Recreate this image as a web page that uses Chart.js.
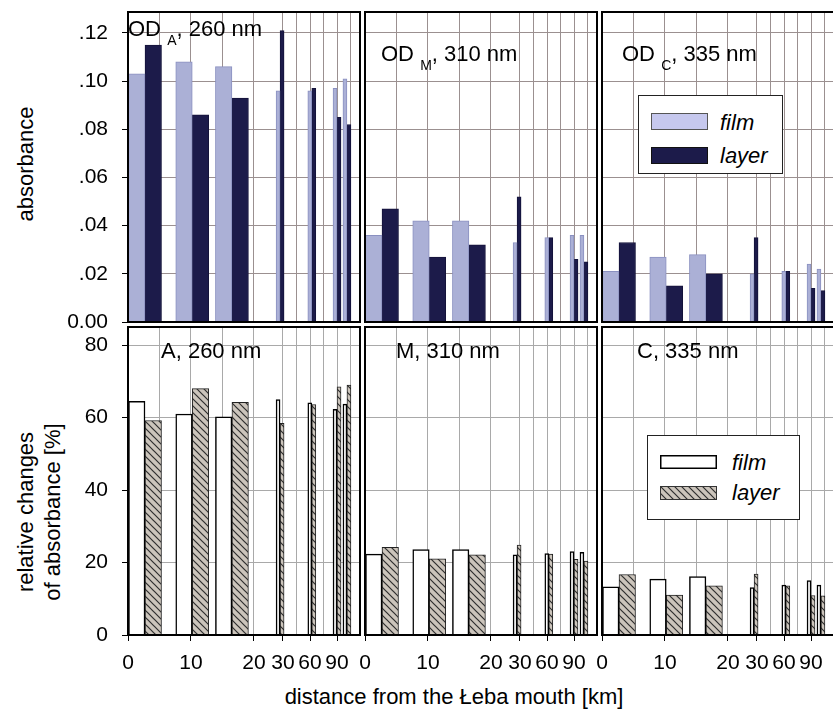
<!DOCTYPE html>
<html>
<head>
<meta charset="utf-8">
<title>Absorbance along the Łeba transect</title>
<script src="https://cdn.jsdelivr.net/npm/chart.js@4.4.1/dist/chart.umd.min.js"></script>
<style>
  html, body { margin: 0; padding: 0; }
  body { width: 833px; height: 710px; overflow: hidden; position: relative; background: #fff;
         font-family: "Liberation Sans", Arial, sans-serif; color: #000; }
  canvas { position: absolute; }
  .txt { position: absolute; font-size: 22px; line-height: 1; white-space: nowrap; }
  .txt .sub { position: relative; top: 9px; font-size: 14px; }
  .ytitle { position: absolute; font-size: 22px; line-height: 27px; text-align: center; white-space: nowrap;
            transform: translate(-50%, -50%) rotate(-90deg); }
  .legend { position: absolute; background: #fff; border: 1px solid #222; box-sizing: border-box; }
  .legend span { position: absolute; font-style: italic; font-size: 22px; line-height: 1; }
</style>
</head>
<body>
<div class="ytitle" style="left:25px; top:164px;">absorbance</div>
<div class="ytitle" style="left:39px; top:512px;">relative changes<br>of absorbance [%]</div>
<div class="txt" style="left:454px; top:686px; transform:translateX(-50%);">distance from the Łeba mouth [km]</div>

<script>
// sampling stations, km from the Łeba mouth (first three drawn wide, the rest narrow)
const stations = [2.7, 10.2, 16.5, 29, 62, 90, 101];
const wideCount = 3;

const seriesNames = ['film', 'layer'];
const bands = ['A', 'M', 'C'];
const wavelengths = ['260 nm', '310 nm', '335 nm'];

// absorbance OD
const odFilmA  = [0.103, 0.108, 0.106, 0.096, 0.096, 0.097, 0.101];
const odLayerA = [0.115, 0.086, 0.093, 0.121, 0.097, 0.085, 0.082];
const odFilmM  = [0.036, 0.042, 0.042, 0.033, 0.035, 0.036, 0.036];
const odLayerM = [0.047, 0.027, 0.032, 0.052, 0.035, 0.026, 0.025];
const odFilmC  = [0.021, 0.027, 0.028, 0.020, 0.021, 0.024, 0.022];
const odLayerC = [0.033, 0.015, 0.020, 0.035, 0.021, 0.014, 0.013];

// relative changes of absorbance [%]
const relFilmA  = [64.5, 61.0, 60.2, 65.0, 64.1, 62.3, 63.7];
const relLayerA = [59.2, 68.0, 64.2, 58.4, 63.6, 68.5, 69.0];
const relFilmM  = [22.3, 23.6, 23.6, 22.1, 22.5, 23.0, 22.8];
const relLayerM = [24.2, 21.0, 22.1, 24.8, 22.3, 20.9, 20.4];
const relFilmC  = [13.3, 15.4, 16.1, 13.1, 13.8, 15.0, 13.8];
const relLayerC = [16.7, 11.0, 13.6, 16.8, 13.6, 10.9, 10.8];

// axis ticks
const odTicks = [0, 0.02, 0.04, 0.06, 0.08, 0.10, 0.12];
const odTickLabels = ['0.00', '.02', '.04', '.06', '.08', '.10', '.12'];
const odMax = 0.1287;
const relTicks = [0, 20, 40, 60, 80];
const relTickLabels = ['0', '20', '40', '60', '80'];
const relMax = 85;

const gridKm = [0, 5, 10, 15, 20, 30, 45, 60, 75, 90, 105];
const tickKm = [0, 10, 20, 30, 60, 90];
// broken distance axis: break points and where they sit across the panel
const breakKm = [0, 20, 30, 115.5];
const breakFrac = [0, 0.543, 0.668, 1];

function kmToFrac(km) {
  for (let i = 1; i < breakKm.length; i++) {
    if (km <= breakKm[i] || i === breakKm.length - 1) {
      const t = (km - breakKm[i - 1]) / (breakKm[i] - breakKm[i - 1]);
      return breakFrac[i - 1] + t * (breakFrac[i] - breakFrac[i - 1]);
    }
  }
}
function fracToKm(f) {
  for (let i = 1; i < breakFrac.length; i++) {
    if (f <= breakFrac[i] || i === breakFrac.length - 1) {
      const t = (f - breakFrac[i - 1]) / (breakFrac[i] - breakFrac[i - 1]);
      return breakKm[i - 1] + t * (breakKm[i] - breakKm[i - 1]);
    }
  }
}

class DistanceScale extends Chart.LinearScale {
  getPixelForValue(value) {
    return value === null ? NaN : this.getPixelForDecimal(kmToFrac(value));
  }
  getValueForPixel(pixel) {
    return fracToKm(this.getDecimalForPixel(pixel));
  }
}
DistanceScale.id = 'distance';
Chart.register(DistanceScale);

Chart.defaults.font.family = '"Liberation Sans", Arial, sans-serif';
Chart.defaults.font.size = 21;
Chart.defaults.color = '#000';

function makeHatch() {
  const s = 7;
  const c = document.createElement('canvas');
  c.width = s; c.height = s;
  const g = c.getContext('2d');
  g.fillStyle = '#cbc4bb';
  g.fillRect(0, 0, s, s);
  g.strokeStyle = '#2e2e2e';
  g.lineWidth = 1.2;
  g.beginPath();
  g.moveTo(-1, -1); g.lineTo(s + 1, s + 1);
  g.moveTo(-1, s - 1); g.lineTo(1, s + 1);
  g.moveTo(s - 1, -1); g.lineTo(s + 1, 1);
  g.stroke();
  return g.createPattern(c, 'repeat');
}
const hatch = makeHatch();

const styles = {
  od:  [{ backgroundColor: '#abb0d6', borderColor: '#8a90c0', borderWidth: 1 },
        { backgroundColor: '#1c1b4a', borderColor: '#14133a', borderWidth: 1 }],
  rel: [{ backgroundColor: '#ffffff', borderColor: '#000000', borderWidth: 1.5 },
        { backgroundColor: hatch, borderColor: '#222222', borderWidth: 1 }]
};

// draws the black frame round each panel
const framePlugin = {
  id: 'frame',
  afterDraw(chart) {
    const { ctx, chartArea: a } = chart;
    ctx.save();
    ctx.strokeStyle = '#000';
    ctx.lineWidth = 2;
    ctx.strokeRect(a.left, a.top, a.right - a.left, a.bottom - a.top);
    ctx.restore();
  }
};

function noEdgePadding(s) {
  s.paddingLeft = 0; s.paddingRight = 0; s.paddingTop = 0; s.paddingBottom = 0;
}

// canvases overlap a little so edge tick labels are not clipped
const colLeft = [0, 351, 588];
const colWidth = [362, 248, 248];
const colPadLeft = [0, 14, 14];
const rowTop = [0, 325];
const rowHeight = [336, 350];

function makePanel(row, col, film, layer) {
  const cv = document.createElement('canvas');
  cv.width = colWidth[col];
  cv.height = rowHeight[row];
  cv.style.left = colLeft[col] + 'px';
  cv.style.top = rowTop[row] + 'px';
  document.body.appendChild(cv);

  const top = row === 0;
  const st = top ? styles.od : styles.rel;
  const wide = arr => stations.map((km, i) => ({ x: km, y: i < wideCount ? arr[i] : null }));
  const narrow = arr => stations.map((km, i) => ({ x: km, y: i >= wideCount ? arr[i] : null }));
  const yTicks = top ? odTicks : relTicks;
  const yLabels = top ? odTickLabels : relTickLabels;

  return new Chart(cv, {
    type: 'bar',
    data: {
      datasets: [
        { label: seriesNames[0], data: wide(film), barThickness: 16.5, ...st[0] },
        { label: seriesNames[1], data: wide(layer), barThickness: 16.5, ...st[1] },
        { label: seriesNames[0], data: narrow(film), barThickness: 4, ...st[0] },
        { label: seriesNames[1], data: narrow(layer), barThickness: 4, ...st[1] }
      ]
    },
    options: {
      responsive: false,
      animation: false,
      events: [],
      devicePixelRatio: 1,
      skipNull: true,
      layout: { padding: { left: colPadLeft[col], right: 2, top: top ? 12 : 2, bottom: top ? 14 : 0 } },
      plugins: { legend: { display: false }, tooltip: { enabled: false } },
      scales: {
        x: {
          type: 'distance',
          min: 0,
          max: breakKm[breakKm.length - 1],
          offset: false,
          border: { display: false },
          grid: {
            offset: false,
            color: top ? '#9b9090' : '#a9a9a9',
            drawTicks: !top,
            tickLength: 6,
            tickColor: ctx => tickKm.includes(ctx.tick && ctx.tick.value) ? '#000' : 'rgba(0,0,0,0)'
          },
          ticks: {
            display: !top,
            autoSkip: false,
            maxRotation: 0,
            padding: 10,
            callback: v => tickKm.includes(v) ? String(v) : ''
          },
          afterBuildTicks: s => { s.ticks = gridKm.map(v => ({ value: v })); },
          afterFit: s => { s.height = top ? 0 : 40; noEdgePadding(s); }
        },
        y: {
          min: 0,
          max: top ? odMax : relMax,
          border: { display: false },
          grid: {
            color: top ? '#9b9090' : '#a9a9a9',
            drawTicks: col === 0,
            tickLength: 6,
            tickColor: '#000'
          },
          ticks: {
            display: col === 0,
            padding: 14,
            callback: (v, i) => yLabels[i]
          },
          afterBuildTicks: s => { s.ticks = yTicks.map(v => ({ value: v })); },
          afterFit: s => { s.width = col === 0 ? 128 : 0; noEdgePadding(s); }
        }
      }
    },
    plugins: [framePlugin]
  });
}

makePanel(0, 0, odFilmA, odLayerA);
makePanel(0, 1, odFilmM, odLayerM);
makePanel(0, 2, odFilmC, odLayerC);
makePanel(1, 0, relFilmA, relLayerA);
makePanel(1, 1, relFilmM, relLayerM);
makePanel(1, 2, relFilmC, relLayerC);

// panel captions
const odCaptionPos = [[128, 18], [381, 43], [622, 43]];
const relCaptionPos = [[161, 340], [396, 340], [637, 340]];
bands.forEach((b, i) => {
  const t = document.createElement('div');
  t.className = 'txt';
  t.style.left = odCaptionPos[i][0] + 'px';
  t.style.top = odCaptionPos[i][1] + 'px';
  t.innerHTML = 'OD <span class="sub">' + b + '</span>, ' + wavelengths[i];
  document.body.appendChild(t);

  const r = document.createElement('div');
  r.className = 'txt';
  r.style.left = relCaptionPos[i][0] + 'px';
  r.style.top = relCaptionPos[i][1] + 'px';
  r.textContent = b + ', ' + wavelengths[i];
  document.body.appendChild(r);
});

// legends (film / layer) built from the dataset styles
function addLegend(box, swatchFills, borders, lineWidths, swH, rowsY, textY, textX) {
  const lg = document.createElement('div');
  lg.className = 'legend';
  Object.assign(lg.style, { left: box[0] + 'px', top: box[1] + 'px', width: box[2] + 'px', height: box[3] + 'px' });
  seriesNames.forEach((name, i) => {
    const sw = document.createElement('canvas');
    sw.width = 57; sw.height = swH;
    sw.style.left = '12px';
    sw.style.top = rowsY[i] + 'px';
    const g = sw.getContext('2d');
    g.fillStyle = swatchFills[i];
    g.fillRect(0, 0, sw.width, sw.height);
    g.strokeStyle = borders[i];
    g.lineWidth = lineWidths[i];
    const h = lineWidths[i] / 2;
    g.strokeRect(h, h, sw.width - 2 * h, sw.height - 2 * h);
    lg.appendChild(sw);
    const sp = document.createElement('span');
    sp.textContent = name;
    sp.style.left = textX + 'px';
    sp.style.top = textY[i] + 'px';
    lg.appendChild(sp);
  });
  document.body.appendChild(lg);
}
addLegend([638, 95, 145, 79], ['#c6c8ee', '#1c1b4a'], ['#555', '#111'], [1, 1], 17, [17, 51], [16, 49], 81);
addLegend([647, 435, 153, 85], ['#ffffff', hatch], ['#000', '#333'], [1.5, 1], 14, [19, 50], [16, 46], 84);
</script>
</body>
</html>
